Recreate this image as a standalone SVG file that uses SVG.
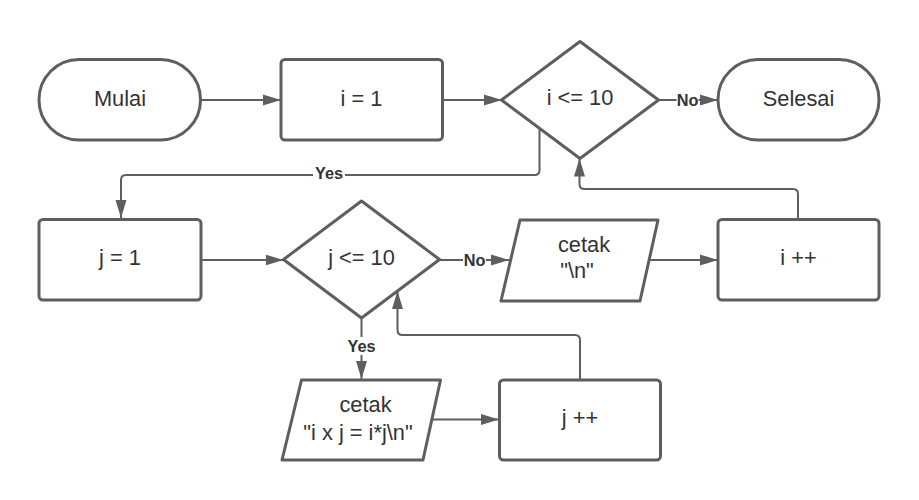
<svg xmlns="http://www.w3.org/2000/svg" width="919" height="500" viewBox="0 0 919 500">
<defs>
<marker id="ah" markerWidth="18" markerHeight="12" refX="18" refY="6" orient="auto" markerUnits="userSpaceOnUse">
<path d="M0,0.5 L18,6 L0,11.5 Z" fill="#5e5e5e"/>
</marker>
<style>
.node{fill:#ffffff;stroke:#5e5e5e;stroke-width:3;stroke-linejoin:round}
.t{font-family:"Liberation Sans",Arial,sans-serif;font-size:21.8px;fill:#333333;text-anchor:middle}
.c{fill:none;stroke:#5e5e5e;stroke-width:2;stroke-linejoin:round}
.lbl{font-family:"Liberation Sans",Arial,sans-serif;font-size:16.3px;font-weight:bold;fill:#333333;text-anchor:middle}
.bg{fill:#ffffff}
</style>
</defs>
<rect width="919" height="500" fill="#ffffff"/>
<g id="connectors">
<path class="c" d="M201,100 L281,100" marker-end="url(#ah)"/>
<path class="c" d="M442,100 L502,100" marker-end="url(#ah)"/>
<path class="c" d="M658,100 L718,100" marker-end="url(#ah)"/>
<path class="c" d="M539.5,128 L539.5,170 Q539.5,175 534.5,175 L126,175 Q121,175 121,180 L121,218" marker-end="url(#ah)"/>
<path class="c" d="M798,219 L798,194 Q798,189 793,189 L584.5,189 Q579.5,189 579.5,184 L579.5,158.5" marker-end="url(#ah)"/>
<path class="c" d="M201,260 L283.5,260" marker-end="url(#ah)"/>
<path class="c" d="M439.5,260 L509,260" marker-end="url(#ah)"/>
<path class="c" d="M649,260 L718,260" marker-end="url(#ah)"/>
<path class="c" d="M361.5,318 L361.5,379" marker-end="url(#ah)"/>
<path class="c" d="M432.5,419.5 L499,419.5" marker-end="url(#ah)"/>
<path class="c" d="M580,380 L580,340 Q580,335 575,335 L402.5,335 Q397.5,335 397.5,330 L397.5,291" marker-end="url(#ah)"/>
<rect class="bg" x="313" y="164" width="32" height="18"/>
<text class="lbl" x="329" y="178.5">Yes</text>
<rect class="bg" x="676.5" y="91" width="22" height="18"/>
<text class="lbl" x="687.5" y="105.5">No</text>
<rect class="bg" x="463" y="251" width="23" height="18"/>
<text class="lbl" x="474.5" y="265.5">No</text>
<rect class="bg" x="345" y="337" width="33" height="18"/>
<text class="lbl" x="361.5" y="352">Yes</text>
</g>
<g id="mulai">
<rect class="node" x="39" y="59.5" width="161.5" height="80.5" rx="40"/>
<text class="t" x="120" y="105.5">Mulai</text>
</g>
<g id="i1">
<rect class="node" x="281" y="59.5" width="161.5" height="80.5" rx="4"/>
<text class="t" x="361.5" y="105.5">i = 1</text>
</g>
<g id="cond_i">
<path class="node" d="M580,41.5 L658.5,100 L580,158.5 L501.5,100 Z"/>
<text class="t" x="580" y="104.5">i &lt;= 10</text>
</g>
<g id="selesai">
<rect class="node" x="718" y="59.5" width="161" height="80.5" rx="40"/>
<text class="t" x="798.5" y="105.5">Selesai</text>
</g>
<g id="j1">
<rect class="node" x="39" y="219.5" width="162" height="80.5" rx="4"/>
<text class="t" x="120" y="265">j = 1</text>
</g>
<g id="cond_j">
<path class="node" d="M361.5,201 L439.5,259.5 L361.5,318 L283.5,259.5 Z"/>
<text class="t" x="361.5" y="265">j &lt;= 10</text>
</g>
<g id="print_nl">
<path class="node" d="M520,220 L658,220 L640,301 L501,301 Z"/>
<text class="t" x="584" y="252">cetak</text>
<text class="t" x="577" y="278">"\n"</text>
</g>
<g id="iinc">
<rect class="node" x="718" y="219.5" width="161" height="80.5" rx="4"/>
<text class="t" x="798.5" y="264.5">i ++</text>
</g>
<g id="print_ij">
<path class="node" d="M301.5,380 L440.5,380 L423,460 L282,460 Z"/>
<text class="t" x="365.5" y="412">cetak</text>
<text class="t" x="358" y="440">"i x j = i*j\n"</text>
</g>
<g id="jinc">
<rect class="node" x="499.5" y="380" width="161" height="80" rx="4"/>
<text class="t" x="580" y="425">j ++</text>
</g>
</svg>
